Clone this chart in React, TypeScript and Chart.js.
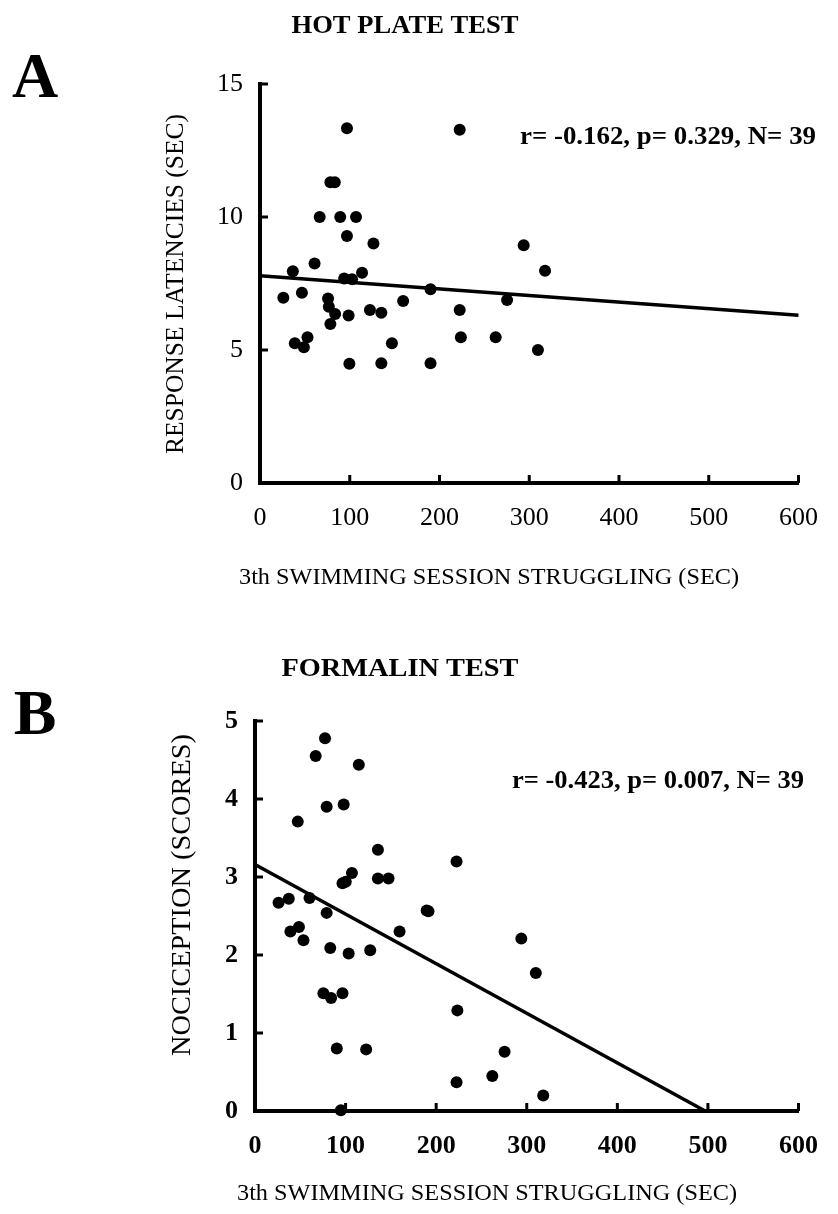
import React, { useEffect, useRef } from 'react';
import { Chart, registerables } from 'chart.js';

Chart.register(...registerables);

const FONT = "'Liberation Serif', 'Times New Roman', serif";

// ---------- data ----------
const xTickValues = [0, 100, 200, 300, 400, 500, 600];
const yTicksA = [0, 5, 10, 15];
const yTicksB = [0, 1, 2, 3, 4, 5];

// Panel A: hot plate test
const struggleA = [26, 36.6, 38.8, 46.7, 48.9, 52.9, 60.8, 66.5, 75.8, 76.7, 78.4, 83.3, 78.4, 83.7, 89.4, 93.8, 96.9, 96.9, 98.7, 99.6, 102.6, 107, 113.7, 122.5, 126.4, 135.2, 135.2, 147, 159.5, 190, 190, 222.5, 222.5, 223.8, 262.6, 275.3, 293.8, 309.7, 317.6];
const latencyA = [6.96, 7.96, 5.25, 7.15, 5.1, 5.48, 8.25, 10.0, 6.94, 6.63, 11.31, 11.31, 5.98, 6.35, 10.0, 7.69, 13.34, 9.29, 6.3, 4.48, 7.66, 10.0, 7.9, 6.5, 9.0, 6.4, 4.5, 5.25, 6.84, 7.28, 4.5, 13.28, 6.5, 5.48, 5.48, 6.88, 8.94, 5.0, 7.98];
const fitA = [7.79, -0.00247]; // intercept, slope
const fitRangeA = [0, 600];

// Panel B: formalin test
const struggleB = [26, 37.3, 39.1, 47.2, 48.5, 53.5, 60.2, 67, 75.5, 77.3, 79.1, 79.1, 83.1, 84, 90.3, 94.8, 96.6, 96.6, 97.9, 100.2, 103.4, 107, 114.6, 122.7, 127.2, 135.7, 135.7, 147.4, 159.6, 189.5, 191.5, 222.5, 223.4, 222.5, 262, 275.5, 294, 310, 318.2];
const scoreB = [2.67, 2.72, 2.30, 3.71, 2.36, 2.19, 2.73, 4.55, 1.51, 4.78, 3.90, 2.54, 2.09, 1.45, 0.80, 0.01, 1.51, 2.92, 3.93, 2.94, 2.02, 3.05, 4.44, 0.79, 2.06, 3.35, 2.98, 2.98, 2.30, 2.57, 2.56, 3.20, 1.29, 0.37, 0.45, 0.76, 2.21, 1.77, 0.20];
const fitB = [3.16, -0.006358];
const fitRangeB = [0, 497];

const statsA = 'r= -0.162, p= 0.329, N= 39';
const statsB = 'r= -0.423, p= 0.007, N= 39';
const titleA = 'HOT PLATE TEST';
const titleB = 'FORMALIN TEST';
const yTitleA = 'RESPONSE LATENCIES (SEC)';
const yTitleB = 'NOCICEPTION (SCORES)';
const xTitle = '3th SWIMMING SESSION STRUGGLING (SEC)';

// ---------- layout ----------
const W = 838;
const panels = [
  {
    key: 'A', top: 0, height: 607,
    xs: struggleA, ys: latencyA, fit: fitA, fitRange: fitRangeA,
    yTicks: yTicksA, yMax: 15,
    area: { left: 260, right: 812, top: 84, bottom: 483 },
    tickWeight: 'normal',
    letter: { text: 'A', x: 35, y: 80 },
    title: { text: titleA, x: 405, y: 26, w: 227 },
    yTitle: { text: yTitleA, x: 176, y: 284, w: 340, size: 26 },
    xTitle: { text: xTitle, x: 489, y: 578, w: 500 },
    stats: { text: statsA, x: 668, y: 137, w: 296 },
  },
  {
    key: 'B', top: 607, height: 607,
    xs: struggleB, ys: scoreB, fit: fitB, fitRange: fitRangeB,
    yTicks: yTicksB, yMax: 5,
    area: { left: 255, right: 801, top: 721, bottom: 1111 },
    tickWeight: 'bold',
    letter: { text: 'B', x: 35, y: 717 },
    title: { text: titleB, x: 400, y: 669, w: 237 },
    yTitle: { text: yTitleB, x: 183, y: 895, w: 322, size: 28 },
    xTitle: { text: xTitle, x: 487, y: 1194, w: 500 },
    stats: { text: statsB, x: 658, y: 781, w: 292 },
  },
];

function drawText(ctx, s, x, y, font, w?, rotate = false) {
  ctx.save();
  ctx.font = font;
  ctx.fillStyle = '#000';
  ctx.textAlign = 'center';
  ctx.textBaseline = 'middle';
  ctx.translate(x, y);
  if (rotate) ctx.rotate(-Math.PI / 2);
  if (w) {
    const m = ctx.measureText(s).width;
    if (m > 0) ctx.scale(w / m, 1);
  }
  ctx.fillText(s, 0, 0);
  ctx.restore();
}

const decorPlugin = {
  id: 'decor',
  afterDraw(chart, _args, opts) {
    const p = opts.panel;
    if (!p) return;
    const ctx = chart.ctx;
    const a = chart.chartArea;
    const xs = chart.scales.x;
    const ys = chart.scales.y;
    const off = p.top;
    ctx.save();
    ctx.strokeStyle = '#000';
    ctx.lineWidth = 3;
    ctx.lineCap = 'butt';
    xs.ticks.forEach((t) => {
      if (t.value === xs.min) return;
      const px = xs.getPixelForValue(t.value);
      ctx.beginPath();
      ctx.moveTo(px, a.bottom);
      ctx.lineTo(px, a.bottom - 8);
      ctx.stroke();
    });
    ys.ticks.forEach((t) => {
      if (t.value === ys.min) return;
      const py = ys.getPixelForValue(t.value);
      ctx.beginPath();
      ctx.moveTo(a.left, py);
      ctx.lineTo(a.left + 8, py);
      ctx.stroke();
    });
    ctx.restore();

    drawText(ctx, p.letter.text, p.letter.x, p.letter.y - off, `bold 64px ${FONT}`);
    drawText(ctx, p.title.text, p.title.x, p.title.y - off, `bold 26px ${FONT}`, p.title.w);
    drawText(ctx, p.yTitle.text, p.yTitle.x, p.yTitle.y - off, `${p.yTitle.size}px ${FONT}`, p.yTitle.w, true);
    drawText(ctx, p.xTitle.text, p.xTitle.x, p.xTitle.y - off, `23px ${FONT}`, p.xTitle.w);
    drawText(ctx, p.stats.text, p.stats.x, p.stats.y - off, `bold 26px ${FONT}`, p.stats.w);
  },
};

function Panel({ p }) {
  const ref = useRef(null);
  useEffect(() => {
    const canvas = ref.current;
    const H = p.height;
    const localTop = p.area.top - p.top;
    const localBottom = p.area.bottom - p.top;
    const points = p.xs.map((x, i) => ({ x, y: p.ys[i] }));
    const fitLine = p.fitRange.map((x) => ({ x, y: p.fit[0] + p.fit[1] * x }));
    const tickFont = { family: FONT, size: 26, weight: p.tickWeight };
    const chart = new Chart(canvas, {
      type: 'scatter',
      data: {
        datasets: [
          {
            type: 'line',
            data: fitLine,
            borderColor: '#000',
            borderWidth: 3.5,
            pointRadius: 0,
            showLine: true,
            fill: false,
            order: 1,
            clip: false,
          },
          {
            data: points,
            backgroundColor: '#000',
            borderColor: '#000',
            borderWidth: 0,
            pointRadius: 6,
            pointHoverRadius: 6,
            order: 0,
            clip: false,
          },
        ],
      },
      options: {
        responsive: false,
        animation: false,
        events: [],
        layout: { padding: { left: 0, right: W - p.area.right, top: localTop, bottom: 0 } },
        plugins: {
          legend: { display: false },
          tooltip: { enabled: false },
          title: { display: false },
          decor: { panel: p },
        },
        scales: {
          x: {
            type: 'linear',
            min: 0,
            max: 600,
            afterBuildTicks: (s) => { s.ticks = xTickValues.map((v) => ({ value: v })); },
            afterFit: (s) => { s.height = H - localBottom; },
            grid: { display: false, drawTicks: false },
            border: { display: true, color: '#000', width: 4 },
            ticks: { color: '#000', font: tickFont, padding: 20, maxRotation: 0, autoSkip: false },
          },
          y: {
            type: 'linear',
            min: 0,
            max: p.yMax,
            afterBuildTicks: (s) => { s.ticks = p.yTicks.map((v) => ({ value: v })); },
            afterFit: (s) => { s.width = p.area.left; },
            grid: { display: false, drawTicks: false },
            border: { display: true, color: '#000', width: 4 },
            ticks: { color: '#000', font: tickFont, padding: 17, autoSkip: false },
          },
        },
      },
      plugins: [decorPlugin],
    });
    return () => chart.destroy();
  }, [p]);
  return (
    <canvas
      ref={ref}
      width={W}
      height={p.height}
      style={{ position: 'absolute', left: 0, top: p.top, width: W, height: p.height, display: 'block' }}
    />
  );
}

export default function App() {
  return (
    <div style={{ position: 'absolute', left: 0, top: 0, width: W, height: 1214, background: '#fff' }}>
      {panels.map((p) => (
        <Panel key={p.key} p={p} />
      ))}
    </div>
  );
}
